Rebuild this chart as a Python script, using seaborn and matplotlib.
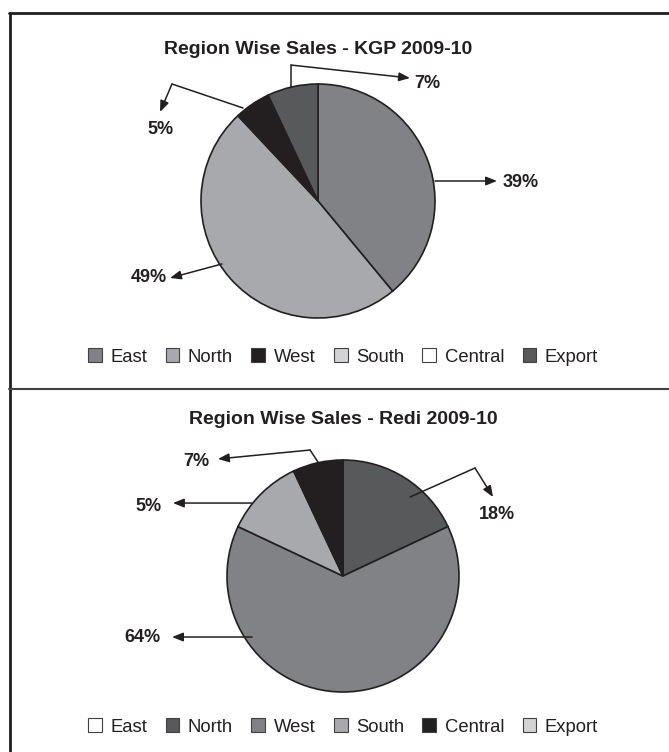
import numpy as np
import matplotlib
matplotlib.use("Agg")
import matplotlib.pyplot as plt
import matplotlib.lines as mlines
from matplotlib.patches import Patch
import seaborn as sns

# -----------------------------
# Data
# -----------------------------
regions = ["East", "North", "West", "South", "Central", "Export"]

kgp_title = "Region Wise Sales - KGP 2009-10"
kgp_values = [39, 49, 5, 0, 0, 7]
kgp_colors = ["#808285", "#a7a9ac", "#231f20", "#d1d3d4", "#ffffff", "#58595b"]
kgp_labels = ["39%", "49%", "5%", "7%"]

redi_title = "Region Wise Sales - Redi 2009-10"
redi_values = [0, 18, 64, 11, 7, 0]
redi_colors = ["#ffffff", "#58595b", "#808285", "#a7a9ac", "#231f20", "#d1d3d4"]
redi_labels = ["18%", "64%", "5%", "7%"]

# -----------------------------
# Style
# -----------------------------
sns.set_theme(style="white")
plt.rcParams["font.family"] = ["Liberation Sans", "DejaVu Sans"]

W, H = 669, 752
fig = plt.figure(figsize=(W / 100, H / 100), dpi=100)
fig.patch.set_facecolor("white")

INK = "#231f20"


def make_axes(y0, y1, cx, cy, r):
    # axes covering one panel, data units = pie radius
    x0, x1 = 9, W
    ax = fig.add_axes([x0 / W, 1 - y1 / H, (x1 - x0) / W, (y1 - y0) / H])
    return ax, ((x0 - cx) / r, (x1 - cx) / r), ((cy - y1) / r, (cy - y0) / r)


def draw_pie(ax, xlim, ylim, values, colors, title, title_y, leg_xy):
    ax.pie(values, colors=colors, startangle=90, counterclock=False,
           wedgeprops=dict(edgecolor=INK, linewidth=1.2))
    ax.set_xlim(*xlim)
    ax.set_ylim(*ylim)
    ax.set_aspect("auto")
    ax.axis("off")
    ax.text(0, title_y, title, ha="center", va="center",
            fontsize=14, fontweight="bold", color=INK)
    handles = [Patch(facecolor=c, edgecolor="#414042", linewidth=0.8) for c in colors]
    ax.legend(handles, regions, loc="center", bbox_to_anchor=leg_xy,
              bbox_transform=ax.transData, ncol=6, frameon=False,
              fontsize=13.3, handlelength=0.75, handleheight=0.75,
              handletextpad=0.45, columnspacing=1.0, labelcolor=INK)


def arrow(ax, pts, text, text_xy, ha):
    pts = np.array(pts)
    if len(pts) > 2:
        ax.plot(pts[:-1, 0], pts[:-1, 1], color=INK, lw=1.1)
    ax.annotate("", xy=pts[-1], xytext=pts[-2],
                arrowprops=dict(arrowstyle="-|>,head_length=0.55,head_width=0.22",
                                color=INK, lw=1.1, shrinkA=0, shrinkB=0))
    ax.text(text_xy[0], text_xy[1], text, ha=ha, va="center",
            fontsize=13, fontweight="bold", color=INK)


# -----------------------------
# Top pie - KGP
# -----------------------------
ax1, xl, yl = make_axes(13, 389, 318, 201, 117)
draw_pie(ax1, xl, yl, kgp_values, kgp_colors, kgp_title, 1.299, (0.214, -1.333))
arrow(ax1, [(1.0, 0.171), (1.53, 0.171)], kgp_labels[0], (1.58, 0.154), "left")
arrow(ax1, [(-0.821, -0.538), (-1.265, -0.658)], kgp_labels[1], (-1.29, -0.658), "right")
arrow(ax1, [(-0.641, 0.795), (-1.248, 1.0), (-1.35, 0.761)], kgp_labels[2], (-1.342, 0.607), "center")
arrow(ax1, [(-0.231, 0.974), (-0.231, 1.162), (0.786, 1.051)], kgp_labels[3], (0.82, 1.008), "left")

# -----------------------------
# Bottom pie - Redi
# -----------------------------
ax2, xl, yl = make_axes(389, H, 343, 576, 116)
draw_pie(ax2, xl, yl, redi_values, redi_colors, redi_title, 1.345, (0.0, -1.302))
arrow(ax2, [(0.578, 0.681), (1.138, 0.931), (1.293, 0.681)], redi_labels[0], (1.328, 0.526), "center")
arrow(ax2, [(-0.784, -0.526), (-1.474, -0.526)], redi_labels[1], (-1.569, -0.534), "right")
arrow(ax2, [(-0.784, 0.629), (-1.466, 0.629)], redi_labels[2], (-1.56, 0.595), "right")
arrow(ax2, [(-0.216, 0.983), (-0.284, 1.086), (-1.078, 1.009)], redi_labels[3], (-1.267, 0.983), "center")

# -----------------------------
# Frame lines
# -----------------------------
fig.add_artist(mlines.Line2D([9 / W, 1], [1 - 13 / H, 1 - 13 / H], color=INK, lw=2))
fig.add_artist(mlines.Line2D([9.5 / W, 9.5 / W], [0, 1 - 13 / H], color=INK, lw=2))
fig.add_artist(mlines.Line2D([9 / W, 1], [1 - 389 / H, 1 - 389 / H], color="#414042", lw=1.5))

plt.savefig("out.png", dpi=100)
